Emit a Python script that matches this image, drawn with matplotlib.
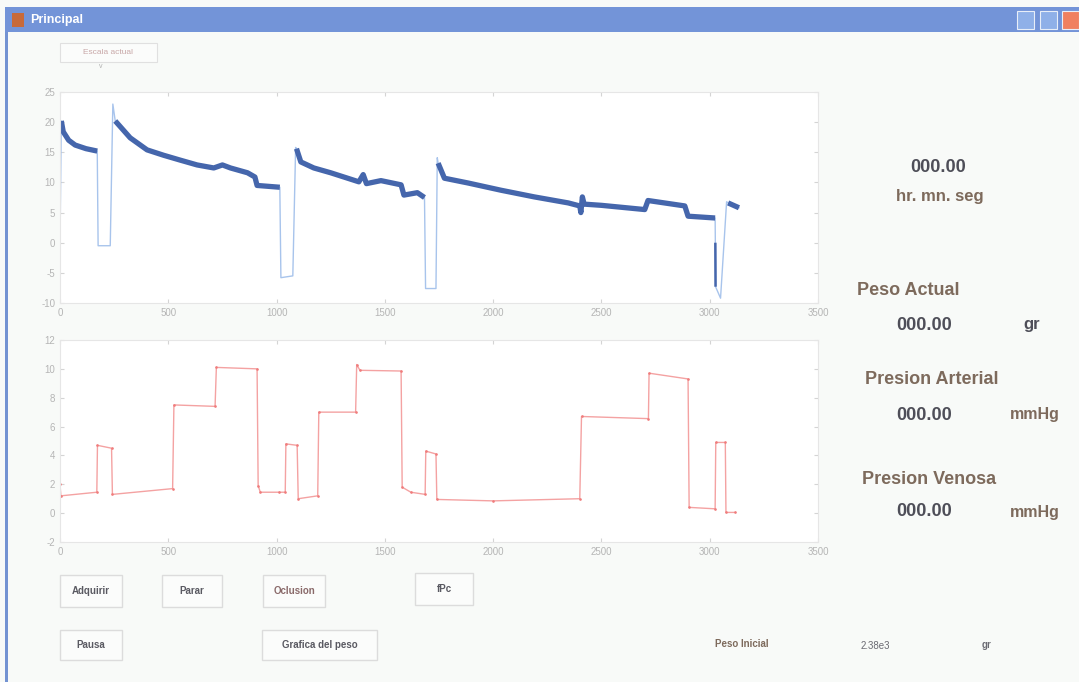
import matplotlib
matplotlib.use("Agg")
import matplotlib.pyplot as plt
from matplotlib.patches import Rectangle

# ---------------- data ----------------
top_x = [0, 6, 15, 40, 70, 120, 172, 176, 232, 244, 255, 324, 402, 479, 555, 633,
         710, 750, 787, 866, 900, 910, 1015, 1020, 1075, 1088, 1092, 1112, 1172,
         1250, 1328, 1380, 1400, 1415, 1482, 1575, 1588, 1650, 1683, 1688, 1736,
         1742, 1746, 1775, 1885, 2037, 2190, 2347, 2400, 2405, 2412, 2420, 2500,
         2700, 2715, 2885, 2900, 3025, 3026, 3027, 3050, 3078, 3085, 3135]
top_y = [-0.5, 20.2, 18.4, 17.0, 16.2, 15.6, 15.2, -0.5, -0.5, 23.0, 20.2, 17.4,
         15.4, 14.5, 13.7, 12.9, 12.4, 12.9, 12.4, 11.6, 10.9, 9.5, 9.2, -5.8,
         -5.5, 15.8, 15.6, 13.4, 12.4, 11.6, 10.7, 10.1, 11.3, 9.8, 10.3, 9.6,
         7.9, 8.3, 7.5, -7.6, -7.6, 14.1, 13.2, 10.7, 9.9, 8.7, 7.6, 6.6, 6.1,
         5.0, 7.6, 6.4, 6.2, 5.5, 7.0, 6.1, 4.4, 4.1, 0.0, -7.3, -9.2, 6.8, 6.6, 5.8]
# index ranges of the dense (thick) parts of the upper trace
top_dense = [(1, 6), (10, 22), (26, 38), (42, 57), (62, 63)]
top_dense_thin = [(58, 59)]

bot_x = [0, 4, 170, 173, 238, 242, 520, 526, 716, 722, 910, 915, 925, 1010, 1040,
         1043, 1095, 1100, 1190, 1195, 1365, 1370, 1385, 1575, 1580, 1620, 1686,
         1689, 1736, 1740, 2000, 2400, 2408, 2717, 2720, 2900, 2905, 3025, 3028,
         3072, 3075, 3118]
bot_y = [2.0, 1.2, 1.45, 4.7, 4.5, 1.3, 1.7, 7.5, 7.4, 10.1, 10.0, 1.9, 1.45,
         1.45, 1.45, 4.8, 4.7, 1.0, 1.2, 7.0, 7.0, 10.3, 9.9, 9.85, 1.8, 1.45,
         1.3, 4.3, 4.1, 0.95, 0.85, 1.0, 6.7, 6.55, 9.7, 9.3, 0.4, 0.3, 4.9, 4.9,
         0.05, 0.05]

x_ticks = [0, 500, 1000, 1500, 2000, 2500, 3000, 3500]
top_yticks = [-10, -5, 0, 5, 10, 15, 20, 25]
bot_yticks = [-2, 0, 2, 4, 6, 8, 10, 12]

buttons = [("Adquirir", 60, 575, 62, 32), ("Parar", 162, 575, 60, 32),
           ("Oclusion", 263, 575, 62, 32), ("fPc", 415, 573, 58, 32),
           ("Pausa", 60, 630, 62, 30), ("Grafica del peso", 262, 630, 115, 30)]

W, H = 1079, 682
plt.rcParams['font.family'] = ['Liberation Sans', 'DejaVu Sans']
plt.rcParams['axes.unicode_minus'] = False
fig = plt.figure(figsize=(W / 100, H / 100), dpi=100)
fig.patch.set_facecolor("#f8faf8")


def fx(px):
    return px / W


def fy(py):
    return 1 - py / H


# window frame and title bar
fig.patches.append(Rectangle((fx(5), 0), fx(3), fy(7), transform=fig.transFigure,
                             facecolor="#7393d2", edgecolor="none"))
fig.patches.append(Rectangle((fx(5), fy(32)), fx(1074), fy(7) - fy(32),
                             transform=fig.transFigure, facecolor="#7394d8",
                             edgecolor="none"))
fig.patches.append(Rectangle((fx(12), fy(27)), fx(12), fy(13) - fy(27),
                             transform=fig.transFigure, facecolor="#c86a3a",
                             edgecolor="none"))
fig.text(fx(30), fy(20), "Principal", color="white", fontsize=9, weight="bold",
         va="center", ha="left")
for bx, col in [(1017, "#8fb0e8"), (1040, "#8fb0e8"), (1062, "#f08060")]:
    fig.patches.append(Rectangle((fx(bx), fy(29)), fx(17), fy(11) - fy(29),
                                 transform=fig.transFigure, facecolor=col,
                                 edgecolor="#e8eef8", lw=0.8))

# popup menu
fig.patches.append(Rectangle((fx(60), fy(62)), fx(97), fy(43) - fy(62),
                             transform=fig.transFigure, facecolor="#fbfcfb",
                             edgecolor="#e0e0e0", lw=0.8))
fig.text(fx(108), fy(53), "Escala actual", color="#c8a8a8", fontsize=6,
         ha="center", va="center")
fig.text(fx(101), fy(66), "v", color="#b0b0b0", fontsize=5, ha="center",
         va="center")


def style_axes(ax, yticks):
    ax.set_facecolor("white")
    ax.set_xlim(0, 3500)
    ax.set_xticks(x_ticks)
    ax.set_yticks(yticks)
    ax.set_ylim(yticks[0], yticks[-1])
    ax.tick_params(direction="in", length=3, color="#d4d4d4",
                   labelcolor="#b5b5b5", labelsize=7, top=True, right=True)
    for s in ax.spines.values():
        s.set_color("#e6e6e6")
        s.set_linewidth(0.8)


# upper axes
ax1 = fig.add_axes([fx(60), fy(303), fx(758), fy(92) - fy(303)])
style_axes(ax1, top_yticks)
ax1.plot(top_x, top_y, color="#a8c4ec", lw=1.0)
for i0, i1 in top_dense:
    ax1.plot(top_x[i0:i1 + 1], top_y[i0:i1 + 1], color="#4566ac", lw=3.8,
             solid_capstyle="butt", solid_joinstyle="round")
for i0, i1 in top_dense_thin:
    ax1.plot(top_x[i0:i1 + 1], top_y[i0:i1 + 1], color="#4566ac", lw=1.8,
             solid_capstyle="butt")

# lower axes
ax2 = fig.add_axes([fx(60), fy(542), fx(758), fy(340) - fy(542)])
style_axes(ax2, bot_yticks)
ax2.plot(bot_x, bot_y, color="#f4a2a2", lw=1.0)
ax2.plot(bot_x, bot_y, color="#f07c7c", lw=0, marker="o", ms=0.9)

# right panel texts
lab_col = "#7d6a5c"
num_col = "#4e4e58"
fig.text(fx(938), fy(167), "000.00", color=num_col, fontsize=13, weight="bold",
         ha="center", va="center")
fig.text(fx(940), fy(197), "hr. mn. seg", color=lab_col, fontsize=12,
         weight="bold", ha="center", va="center")
fig.text(fx(857), fy(290), "Peso Actual", color=lab_col, fontsize=13,
         weight="bold", ha="left", va="center")
fig.text(fx(924), fy(325), "000.00", color=num_col, fontsize=13, weight="bold",
         ha="center", va="center")
fig.text(fx(1032), fy(325), "gr", color=num_col, fontsize=12, weight="bold",
         ha="center", va="center")
fig.text(fx(865), fy(380), "Presion Arterial", color=lab_col, fontsize=13,
         weight="bold", ha="left", va="center")
fig.text(fx(924), fy(415), "000.00", color=num_col, fontsize=13, weight="bold",
         ha="center", va="center")
fig.text(fx(1035), fy(415), "mmHg", color=lab_col, fontsize=11.5, weight="bold",
         ha="center", va="center")
fig.text(fx(862), fy(480), "Presion Venosa", color=lab_col, fontsize=13,
         weight="bold", ha="left", va="center")
fig.text(fx(924), fy(512), "000.00", color=num_col, fontsize=13, weight="bold",
         ha="center", va="center")
fig.text(fx(1035), fy(512), "mmHg", color=lab_col, fontsize=11.5, weight="bold",
         ha="center", va="center")

# buttons
for label, bx, by, bw, bh in buttons:
    fig.patches.append(Rectangle((fx(bx), fy(by + bh)), fx(bw), fy(by) - fy(by + bh),
                                 transform=fig.transFigure, facecolor="#fbfcfb",
                                 edgecolor="#dcdcdc", lw=1.0))
    col = "#8a6a6a" if label == "Oclusion" else "#5a5a62"
    fig.text(fx(bx + bw / 2), fy(by + bh / 2), label, color=col, fontsize=7,
             weight="bold", ha="center", va="center")

fig.text(fx(742), fy(644), "Peso Inicial", color="#7d6a5c", fontsize=7,
         weight="bold", ha="center", va="center")
fig.text(fx(875), fy(646), "2.38e3", color="#6a6a72", fontsize=7,
         ha="center", va="center")
fig.text(fx(986), fy(645), "gr", color="#6a6a72", fontsize=7, weight="bold",
         ha="center", va="center")

fig.savefig("out.png", dpi=100, facecolor=fig.get_facecolor())
